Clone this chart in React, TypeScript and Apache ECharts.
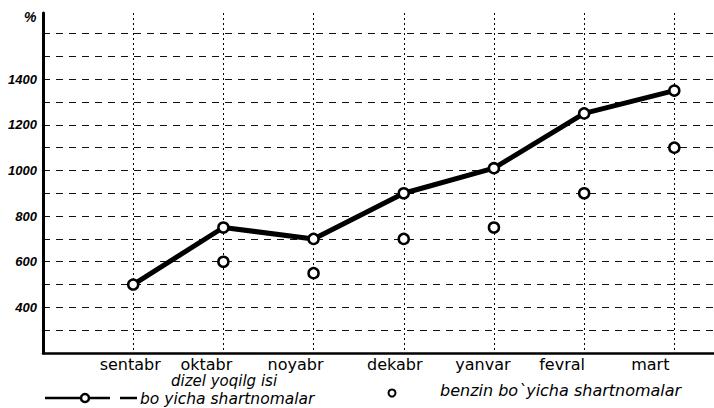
import React, { useEffect, useRef } from "react";
import * as echarts from "echarts";

const months = ["sentabr", "oktabr", "noyabr", "dekabr", "yanvar", "fevral", "mart"];
const dizelValues = [500, 750, 700, 900, 1010, 1250, 1350];
const benzinValues = [null, 600, 550, 700, 750, 900, 1100];
const yTickLabels = [400, 600, 800, 1000, 1200, 1400];
const labelPads = [6, 34, 36, 18, 22, 44, 48];

export default function App() {
  const ref = useRef<HTMLDivElement>(null);
  useEffect(() => {
    document.body.style.margin = "0";
    const chart = echarts.init(ref.current!, null, { renderer: "svg" });
    const rich: any = {};
    labelPads.forEach((p, i) => {
      rich["m" + i] = {
        padding: [0, p, 0, 0],
        fontFamily: "DejaVu Sans",
        fontSize: 16,
        color: "#000",
      };
    });
    const font = "DejaVu Sans";
    chart.setOption({
      animation: false,
      backgroundColor: "#fff",
      grid: { left: 43, right: 0, top: 13, bottom: 55 },
      xAxis: {
        type: "value",
        min: 0,
        max: 7.44,
        interval: 1,
        axisLine: { show: true, lineStyle: { color: "#000", width: 2.5 } },
        axisTick: { show: false },
        axisLabel: {
          margin: 3,
          showMaxLabel: false,
          formatter: (v: number) => {
            const i = Math.round(v) - 1;
            if (Math.abs(v - Math.round(v)) > 1e-6 || i < 0 || i >= months.length) return "";
            return "{m" + i + "|" + months[i] + "}";
          },
          rich,
        },
        splitLine: {
          show: true,
          showMinLine: false,
          showMaxLine: false,
          lineStyle: { color: "#000", width: 1, type: [2, 3] },
        },
      },
      yAxis: {
        type: "value",
        min: 200,
        max: 1690,
        interval: 100,
        axisLine: { show: true, lineStyle: { color: "#000", width: 3 } },
        axisTick: { show: false },
        axisLabel: {
          margin: 6,
          color: "#000",
          fontFamily: "Liberation Sans",
          fontStyle: "italic",
          fontWeight: "bold",
          fontSize: 13,
          formatter: (v: number) => (yTickLabels.indexOf(v) >= 0 ? String(v) : ""),
        },
        splitLine: {
          show: true,
          showMinLine: false,
          showMaxLine: false,
          lineStyle: { color: "#111", width: 1, type: [7, 6] },
        },
      },
      series: [
        {
          name: "dizel yoqilg isi bo yicha shartnomalar",
          type: "line",
          data: dizelValues.map((v, i) => [i + 1, v]),
          symbol: "circle",
          symbolSize: 10,
          showAllSymbol: true,
          lineStyle: { color: "#000", width: 5 },
          itemStyle: { color: "#fff", borderColor: "#000", borderWidth: 2.5, opacity: 1 },
          z: 3,
        },
        {
          name: "benzin bo`yicha shartnomalar",
          type: "scatter",
          data: benzinValues
            .map((v, i) => (v == null ? null : [i + 1, v]))
            .filter((d) => d != null),
          symbol: "circle",
          symbolSize: 10,
          itemStyle: { color: "#fff", borderColor: "#000", borderWidth: 2.5, opacity: 1 },
          z: 4,
        },
      ],
      graphic: [
        {
          type: "text",
          left: 24,
          top: 10,
          style: { text: "%", font: "bold italic 14px 'Liberation Sans'", fill: "#000" },
        },
        {
          type: "line",
          shape: { x1: 45, y1: 398, x2: 110, y2: 398 },
          style: { stroke: "#000", lineWidth: 2.5 },
        },
        {
          type: "line",
          shape: { x1: 120, y1: 398, x2: 137, y2: 398 },
          style: { stroke: "#000", lineWidth: 2.5 },
        },
        {
          type: "circle",
          shape: { cx: 85, cy: 398, r: 4 },
          style: { fill: "#fff", stroke: "#000", lineWidth: 2.5 },
        },
        {
          type: "text",
          x: 224,
          y: 381,
          style: {
            text: "dizel yoqilg isi",
            font: "italic 15px '" + font + "'",
            fill: "#000",
            textAlign: "center",
            textVerticalAlign: "middle",
          },
        },
        {
          type: "text",
          x: 140,
          y: 399,
          style: {
            text: "bo yicha shartnomalar",
            font: "italic 15.5px '" + font + "'",
            fill: "#000",
            textAlign: "left",
            textVerticalAlign: "middle",
          },
        },
        {
          type: "circle",
          shape: { cx: 392, cy: 393, r: 3.5 },
          style: { fill: "#fff", stroke: "#000", lineWidth: 2 },
        },
        {
          type: "text",
          x: 440,
          y: 390,
          style: {
            text: "benzin bo`yicha shartnomalar",
            font: "italic 16px '" + font + "'",
            fill: "#000",
            textAlign: "left",
            textVerticalAlign: "middle",
          },
        },
      ],
    });
    return () => chart.dispose();
  }, []);
  return <div ref={ref} style={{ width: 714, height: 408 }} />;
}
